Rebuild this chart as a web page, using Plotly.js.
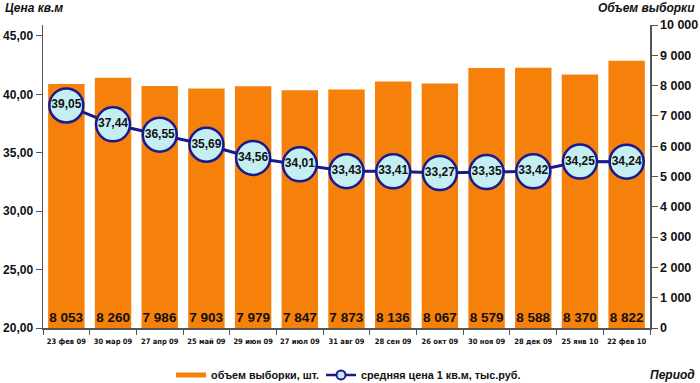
<!DOCTYPE html>
<html><head><meta charset="utf-8">
<script src="https://cdn.plot.ly/plotly-3.0.1.min.js"></script>
<style>body{margin:0;background:#fff}#c{width:700px;height:383px}</style>
</head><body><div id="c"></div>
<script>
const periods = ["23 фев 09","30 мар 09","27 апр 09","25 май 09","29 июн 09","27 июл 09","31 авг 09","28 сен 09","26 окт 09","30 ноя 09","28 дек 09","25 янв 10","22 фев 10"];
const sampleVolume = [8053,8260,7986,7903,7979,7847,7873,8136,8067,8579,8588,8370,8822];
const avgPrice = [39.05,37.44,36.55,35.69,34.56,34.01,33.43,33.41,33.27,33.35,33.42,34.25,34.24];
const leftTicks = [20,25,30,35,40,45];
const rightTicks = [0,1000,2000,3000,4000,5000,6000,7000,8000,9000,10000];
const barName = 'объем выборки, шт.';
const lineName = 'средняя цена 1 кв.м, тыс.руб.';

const F = "Liberation Sans, Arial, sans-serif";
const FN = "DejaVu Sans Condensed, Liberation Sans, Arial, sans-serif";
const ORANGE = '#f5800a', NAVY = '#1a1a90', CYAN = '#c4eef2';

const traces = [
 {type:'bar', x:periods, y:sampleVolume, yaxis:'y', name:barName, showlegend:false,
  marker:{color:ORANGE}, texttemplate:'<b>%{y:,d}</b>', textposition:'inside',
  insidetextanchor:'start', textangle:0, constraintext:'none',
  textfont:{family:F, size:13.5, color:'#111'}, hoverinfo:'skip'},
 {type:'scatter', mode:'lines+markers+text', x:periods, y:avgPrice, yaxis:'y2', name:lineName, showlegend:false,
  line:{color:NAVY, width:3},
  marker:{size:34, color:CYAN, line:{color:NAVY, width:2.5}},
  texttemplate:'<b>%{y:.2f}</b>', textposition:'middle center',
  textfont:{family:F, size:12, color:'#111'}, hoverinfo:'skip'},
 // legend-only keys
 {type:'scatter', mode:'lines', x:[null], y:[null], name:barName, legend:'legend',
  line:{color:ORANGE, width:5}, hoverinfo:'skip'},
 {type:'scatter', mode:'lines+markers', x:[null], y:[null], yaxis:'y2', name:lineName, legend:'legend2',
  line:{color:NAVY, width:2.5}, marker:{size:9, color:CYAN, line:{color:NAVY, width:2}}, hoverinfo:'skip'}
];

const layout = {
 width:700, height:383, separators:', ',
 margin:{l:43, r:50, t:25, b:55, autoexpand:false},
 paper_bgcolor:'#fff', plot_bgcolor:'#fff',
 bargap:0.22, showlegend:true,
 font:{family:F, color:'#111'},
 xaxis:{type:'category', range:[-0.5, periods.length-0.5], automargin:false, showline:true, linecolor:'#555', linewidth:1.5,
   ticks:'outside', tickson:'boundaries', ticklen:5, tickcolor:'#555', tickangle:0, ticklabelstandoff:5,
   tickfont:{family:FN, size:7.5, color:'#111', weight:'bold'}, showgrid:false},
 yaxis:{side:'right', automargin:false, range:[0,10000], tickvals:rightTicks, tickformat:',d',
   showgrid:false, zeroline:false, showline:true, linecolor:'#555', linewidth:1.5,
   ticks:'outside', ticklen:6, tickcolor:'#555',
   tickfont:{family:F, size:12.5, color:'#111', weight:'bold'}},
 yaxis2:{overlaying:'y', side:'left', automargin:false, range:[20,45.94], tickvals:leftTicks, tickformat:'.2f',
   showgrid:false, zeroline:false, showline:true, linecolor:'#555', linewidth:1.5,
   ticks:'outside', ticklen:6, tickcolor:'#555',
   tickfont:{family:F, size:12, color:'#111', weight:'bold'}},
 legend:{orientation:'h', x:0.211, y:-0.155, xanchor:'left', yanchor:'middle', bgcolor:'rgba(0,0,0,0)',
   font:{family:F, size:10.8, color:'#111', weight:'bold'}},
 legend2:{orientation:'h', x:0.458, y:-0.155, xanchor:'left', yanchor:'middle', bgcolor:'rgba(0,0,0,0)',
   font:{family:F, size:10.8, color:'#111', weight:'bold'}},
 annotations:[
  {text:'<b><i>Цена кв.м</i></b>', xref:'paper', yref:'paper', x:-0.066, y:1.056, xanchor:'left', yanchor:'middle', showarrow:false, font:{family:F, size:12}},
  {text:'<b><i>Объем выборки</i></b>', xref:'paper', yref:'paper', x:1.077, y:1.056, xanchor:'right', yanchor:'middle', showarrow:false, font:{family:F, size:12}},
  {text:'<b><i>Период</i></b>', xref:'paper', yref:'paper', x:1.077, y:-0.155, xanchor:'right', yanchor:'middle', showarrow:false, font:{family:F, size:12}}
 ]
};
Plotly.newPlot('c', traces, layout, {displayModeBar:false, staticPlot:true});
</script></body></html>
